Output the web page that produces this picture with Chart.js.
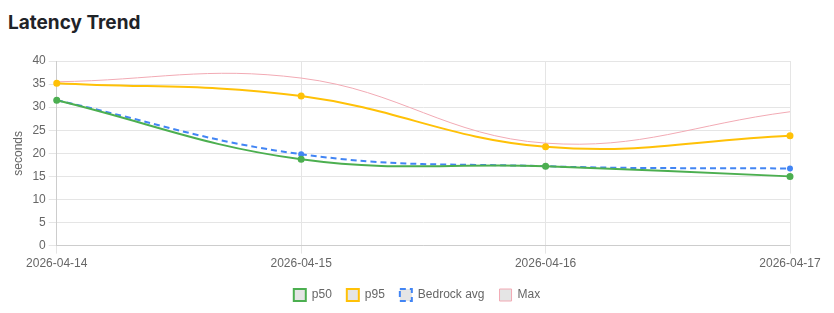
<!DOCTYPE html>
<html>
<head>
<meta charset="utf-8">
<script src="https://cdn.jsdelivr.net/npm/chart.js@4"></script>
<style>
  html, body { margin: 0; padding: 0; background: #fff; }
  body { width: 834px; height: 313px; overflow: hidden; font-family: "Inter", "Helvetica Neue", Arial, sans-serif; }
  h3 { margin: 0; position: absolute; left: 8px; top: 11px; font-size: 19px; font-weight: 700; color: #1f2328; }
  #wrap { position: absolute; left: 0; top: 48px; width: 834px; height: 265px; }
</style>
</head>
<body>
<h3>Latency Trend</h3>
<div id="wrap"><canvas id="c"></canvas></div>
<script>
const categories = ["2026-04-14", "2026-04-15", "2026-04-16", "2026-04-17"];
const p50 = [31.5, 18.7, 17.2, 15.0];
const p95 = [35.2, 32.4, 21.4, 23.8];
const bedrockAvg = [31.5, 19.8, 17.2, 16.7];
const maxVals = [35.5, 36.3, 22.2, 29.0];
const yTicks = { min: 0, max: 40, step: 5 };

Chart.defaults.font.family = '"Liberation Sans", Arial, Helvetica, sans-serif';

// center the bottom legend over the full canvas width
const centerLegend = {
  id: 'centerLegend',
  afterLayout(chart) {
    const lg = chart.legend;
    if (!lg) return;
    const w = lg.right - lg.left;
    lg.left = (chart.width - w) / 2;
    lg.right = lg.left + w;
    if (lg.adjustHitBoxes) lg.adjustHitBoxes();
  }
};

new Chart(document.getElementById('c'), {
  type: 'line',
  data: {
    labels: categories,
    datasets: [
      { label: 'p50', data: p50, borderColor: '#4caf50', pointBackgroundColor: '#4caf50', borderWidth: 2, pointRadius: 2.5, tension: 0.4 },
      { label: 'p95', data: p95, borderColor: '#ffc107', pointBackgroundColor: '#ffc107', borderWidth: 2, pointRadius: 2.5, tension: 0.4 },
      { label: 'Bedrock avg', data: bedrockAvg, borderColor: '#4285f4', pointBackgroundColor: '#4285f4', borderWidth: 2, borderDash: [6, 4], pointRadius: 2, tension: 0.4 },
      { label: 'Max', data: maxVals, borderColor: '#f2aab4', borderWidth: 1, pointRadius: 0, tension: 0.4 }
    ]
  },
  options: {
    responsive: true,
    maintainAspectRatio: false,
    animation: false,
    layout: { padding: { left: 7, right: 44, top: 13, bottom: 2 } },
    plugins: {
      legend: {
        position: 'bottom',
        labels: { boxWidth: 12, boxHeight: 12, padding: 15, color: '#666', font: { size: 12 } }
      },
      tooltip: { enabled: false }
    },
    scales: {
      x: {
        grid: { color: '#e5e5e5' },
        ticks: { color: '#666', font: { size: 12 }, maxRotation: 0 }
      },
      y: {
        min: yTicks.min, max: yTicks.max,
        ticks: { stepSize: yTicks.step, color: '#666', font: { size: 12 } },
        grid: { color: '#e5e5e5' },
        title: { display: true, text: 'seconds', color: '#666', font: { size: 12 } }
      }
    }
  },
  plugins: [centerLegend]
});
</script>
</body>
</html>
